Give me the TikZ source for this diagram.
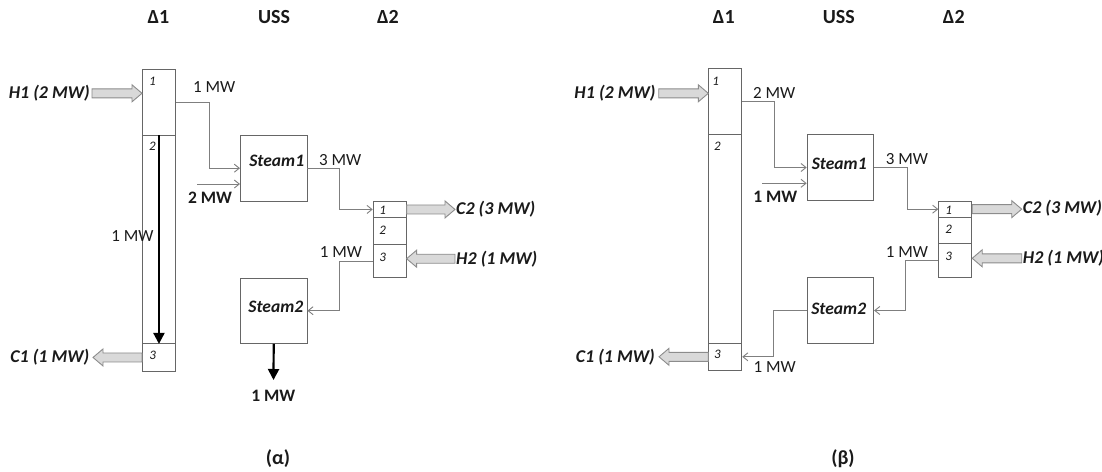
\documentclass[tikz,border=0pt]{standalone}
\usepackage{fontspec}
\setmainfont{Carlito}
\usetikzlibrary{arrows.meta,calc}
\definecolor{boxgray}{HTML}{666666}
\definecolor{conngray}{HTML}{7F7F7F}
\definecolor{arrfill}{HTML}{D9D9D9}
\definecolor{arredge}{HTML}{8C8C8C}
\definecolor{txt}{HTML}{1A1A1A}
% block arrow: #1 tail point, #2 tip point (same height as #1), #3 signed head length
\newcommand{\blockarr}[3]{%
  \filldraw[blockarrow] let \p1=(#1), \p2=(#2) in
   ({\x1},{\y1+4.5pt}) -- ({\x2-(#3)},{\y1+4.5pt}) -- ({\x2-(#3)},{\y1+8.5pt})
   -- ({\x2},{\y1}) -- ({\x2-(#3)},{\y1-8.5pt}) -- ({\x2-(#3)},{\y1-4.5pt})
   -- ({\x1},{\y1-4.5pt}) -- cycle;}
\begin{document}
\begin{tikzpicture}[x=1pt,y=-1pt,
  every node/.style={text=txt, inner sep=0pt, font=\fontsize{17}{20}\selectfont},
  cell/.style={draw=boxgray, line width=0.9pt, minimum width=33pt, anchor=north west},
  steambox/.style={draw=boxgray, line width=0.9pt, minimum width=66.5pt, minimum height=65.5pt, anchor=north west},
  conn/.style={draw=conngray, line width=0.9pt, -{Straight Barb[length=5pt,width=8pt]}},
  thickarr/.style={draw=black, line width=2.2pt, -{Triangle[length=11pt,width=11pt]}},
  blockarrow/.style={fill=arrfill, draw=arredge, line width=0.9pt},
  ttl/.style={font=\fontsize{20}{24}\selectfont\bfseries},
  lab/.style={font=\fontsize{18}{21}\selectfont\bfseries\itshape},
  blab/.style={font=\fontsize{17.5}{20}\selectfont\bfseries},
  stxt/.style={font=\fontsize{17.5}{20}\selectfont\bfseries\itshape},
  num/.style={font=\fontsize{13}{15}\selectfont\itshape},
]
\useasboundingbox (0,0) rectangle (1102,471);

% ================= (alpha) =================
\node[ttl] (LT1) at (158.5,16.7) {Δ1};
\node[ttl] (LT2) at (274,16.7) {USS};
\node[ttl] (LT3) at (388,16.7) {Δ2};

\node[cell, minimum height=66pt] (La1) at (142,69) {};
\node[cell, minimum height=208pt] (La2) at (142,135) {};
\node[cell, minimum height=28pt] (La3) at (142,343) {};
\node[num] (Ln1) at (152.5,81.5) {1};
\node[num] (Ln2) at (152.5,146.7) {2};
\node[num] (Ln3) at (152.7,355.7) {3};

\node[steambox] (Ls1) at (240,135) {};
\node[steambox] (Ls2) at (240,277.5) {};
\node[stxt] (Lst1) at (276.7,160.7) {Steam1};
\node[stxt] (Lst2) at (275.8,307.3) {Steam2};

\node[cell, minimum height=16.6pt] (Ld1) at (372.7,200.7) {};
\node[cell, minimum height=26.7pt] (Ld2) at (372.7,217.3) {};
\node[cell, minimum height=33.3pt] (Ld3) at (372.7,244) {};
\node[num] (Ldn1) at (382.7,210.5) {1};
\node[num] (Ldn2) at (382.7,230) {2};
\node[num] (Ldn3) at (382.7,257.3) {3};

\node[lab, anchor=east] (LH1) at (90,93.3) {H1 (2 MW)};
\node[lab, anchor=east] (LC1) at (89.5,357) {C1 (1 MW)};
\node[lab, anchor=west] (LC2) at (456,209.3) {C2 (3 MW)};
\node[lab, anchor=west] (LH2) at (456,258.7) {H2 (1 MW)};
\blockarr{[xshift=2pt]LH1.east}{LH1.east -| La1.west}{10pt}
\blockarr{La3.west}{[xshift=3.5pt]LC1.east}{-10pt}
\blockarr{Ld1.east}{[xshift=-1pt]LC2.west}{10pt}
\blockarr{[xshift=-1pt]LH2.west}{LH2.west -| Ld3.east}{-10pt}

\coordinate (inL) at (197,184);
\coordinate (outL) at (273.5,380);
\draw[conn] (La1.east) -- ++(33.5,0) |- (Ls1.west);
\draw[conn] (inL) -- (inL -| Ls1.west);
\draw[conn] (Ls1.east) -- ++(32,0) |- (Ld1.west);
\draw[conn] (Ld3.west) -- ++(-33.5,0) |- (Ls2.east);
\draw[thickarr] (La2.north) -- (La2.south);
\draw[thickarr] (Ls2.south) -- (outL);

\node (Lm1) at (214.2,87.3) {1 MW};
\node (Lm2) at (340.3,160) {3 MW};
\node (Lm3) at (132.5,236) {1 MW};
\node (Lm4) at (341,251.7) {1 MW};
\node[blab] (Lm5) at (210,197.3) {2 MW};
\node[blab] (Lm6) at (273.3,396) {1 MW};

\node[ttl] (Lcap) at (278,459) {(α)};

% ================= (beta) =================
\node[ttl] (RT1) at (723.8,16.7) {Δ1};
\node[ttl] (RT2) at (838.8,16.7) {USS};
\node[ttl] (RT3) at (953.8,16.7) {Δ2};

\node[cell, minimum height=66pt] (Ra1) at (708.3,68.3) {};
\node[cell, minimum height=208.4pt] (Ra2) at (708.3,134.3) {};
\node[cell, minimum height=27.3pt] (Ra3) at (708.3,342.7) {};
\node[num] (Rn1) at (715.7,81) {1};
\node[num] (Rn2) at (717.3,146.7) {2};
\node[num] (Rn3) at (717.3,354.3) {3};

\node[steambox] (Rs1) at (806.7,134.3) {};
\node[steambox] (Rs2) at (806.7,277.3) {};
\node[stxt] (Rst1) at (839.2,164) {Steam1};
\node[stxt] (Rst2) at (838.7,309.3) {Steam2};

\node[cell, minimum height=16pt] (Rd1) at (938.3,200.7) {};
\node[cell, minimum height=26.6pt] (Rd2) at (938.3,216.7) {};
\node[cell, minimum height=34pt] (Rd3) at (938.3,243.3) {};
\node[num] (Rdn1) at (948.7,210) {1};
\node[num] (Rdn2) at (948.7,229) {2};
\node[num] (Rdn3) at (948.7,256.7) {3};

\node[lab, anchor=east] (RH1) at (655.7,93.3) {H1 (2 MW)};
\node[lab, anchor=east] (RC1) at (655,356.7) {C1 (1 MW)};
\node[lab, anchor=west] (RC2) at (1022.7,208.5) {C2 (3 MW)};
\node[lab, anchor=west] (RH2) at (1022.7,258.3) {H2 (1 MW)};
\blockarr{[xshift=3pt]RH1.east}{RH1.east -| Ra1.west}{10pt}
\blockarr{Ra3.west}{[xshift=4pt]RC1.east}{-10pt}
\blockarr{Rd1.east}{[xshift=-1pt]RC2.west}{10pt}
\blockarr{[xshift=-1pt]RH2.west}{RH2.west -| Rd3.east}{-10pt}

\coordinate (inR) at (762,183.3);
\draw[conn] (Ra1.east) -- ++(32.6,0) |- (Rs1.west);
\draw[conn] (inR) -- (inR -| Rs1.west);
\draw[conn] (Rs1.east) -- ++(33,0) |- (Rd1.west);
\draw[conn] (Rd3.west) -- ++(-32.6,0) |- (Rs2.east);
\draw[conn] (Rs2.west) -- ++(-33.4,0) |- (Ra3.east);

\node (Rm1) at (774.2,93.3) {2 MW};
\node (Rm2) at (907,159.3) {3 MW};
\node[blab] (Rm3) at (775.3,196.7) {1 MW};
\node (Rm4) at (907,251.7) {1 MW};
\node (Rm5) at (774.7,366.7) {1 MW};

\node[ttl] (Rcap) at (843,459) {(β)};
\end{tikzpicture}
\end{document}
